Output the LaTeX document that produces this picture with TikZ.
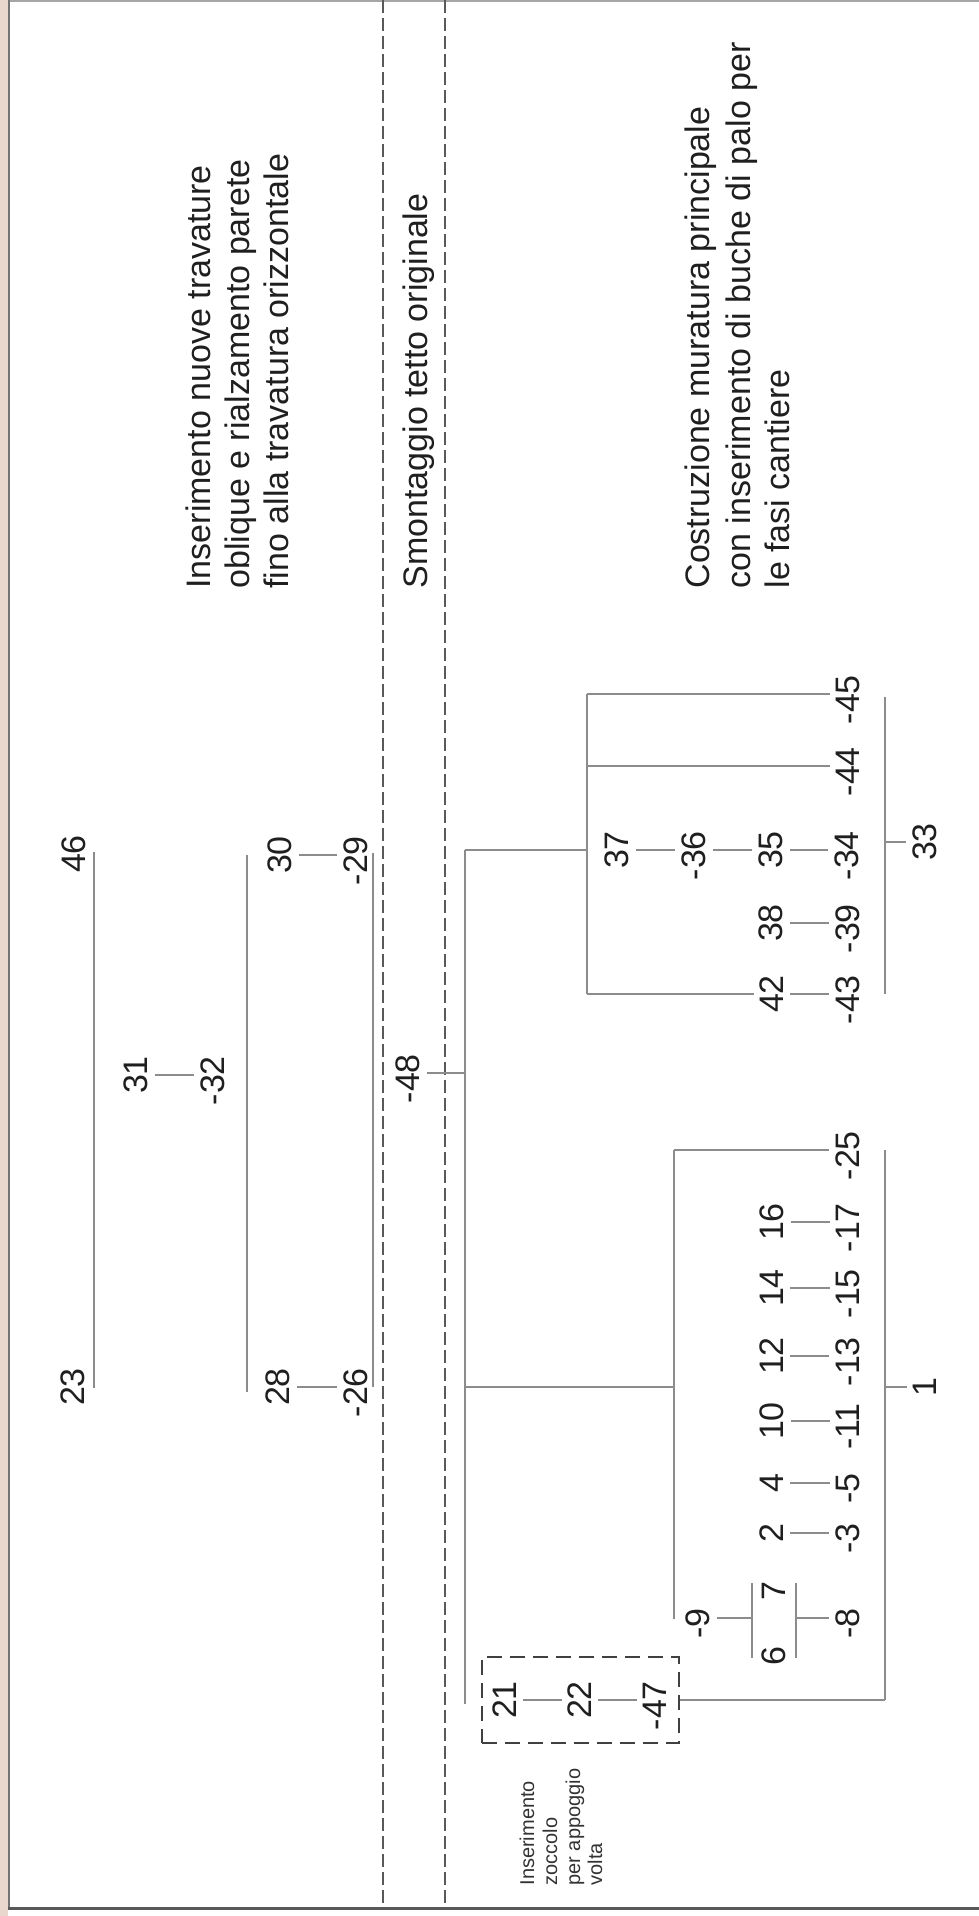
\documentclass[tikz,border=0pt]{standalone}
\usepackage{fontspec}
\setmainfont{Liberation Sans}
\definecolor{pinkstrip}{HTML}{E9D6CD}
\begin{document}
\begin{tikzpicture}[x=0.4pt,y=-0.4pt,
  lab/.style={rotate=90,inner xsep=0pt,inner ysep=2.4pt,text=black!88,font=\fontsize{13.6pt}{16pt}\selectfont},
  desc/.style={rotate=90,inner sep=0pt,anchor=base west,text=black!88,font=\fontsize{13.6pt}{16pt}\selectfont},
  smalltxt/.style={rotate=90,inner sep=0pt,anchor=base west,text=black!80,font=\fontsize{8pt}{9pt}\selectfont},
  conn/.style={draw=black!45,line width=0.5pt},
  divider/.style={draw=black!65,line width=0.55pt,dash pattern=on 5.2pt off 2pt},
  groupbox/.style={draw=black!75,line width=0.8pt,dash pattern=on 6pt off 3.2pt,minimum width=78.8pt,minimum height=34.4pt,inner sep=0pt}
]
% background and frame
\fill[white] (0,0) rectangle (979,1916);
\useasboundingbox (0,0) rectangle (979,1916);
\fill[pinkstrip] (0,0) rectangle (7.5,1916);
\draw[black!35,line width=0.6pt] (8,0.8) -- (979,0.8);
\draw[black!55,line width=0.8pt] (8.5,0) -- (8.5,1909);
\draw[black!65,line width=1.2pt] (8,1908) -- (979,1908);

% dividers
\coordinate (D1t) at (383,0); \coordinate (D1b) at (383,1907);
\coordinate (D2t) at (445,0); \coordinate (D2b) at (445,1907);
\draw[divider] (D1t) -- (D1b);
\draw[divider] (D2t) -- (D2b);

% description texts
\node[desc] (t1a) at (210,589) {Inserimento nuove travature};
\node[desc] (t1b) at (249,589) {oblique e rialzamento parete};
\node[desc] (t1c) at (288,589) {fino alla travatura orizzontale};
\node[desc] (t2) at (427,589) {Smontaggio tetto originale};
\node[desc] (t3a) at (709,589) {Costruzione muratura principale};
\node[desc] (t3b) at (750,589) {con inserimento di buche di palo per};
\node[desc] (t3c) at (789,589) {le fasi cantiere};
\node[smalltxt] (s1) at (534,1886) {Inserimento};
\node[smalltxt] (s2) at (557,1886) {zoccolo};
\node[smalltxt] (s3) at (580,1886) {per appoggio};
\node[smalltxt] (s4) at (602,1886) {volta};

% labels
\node[lab] (n46) at (74,854) {46};
\node[lab] (n23) at (73,1387) {23};
\node[lab] (n31) at (136,1075) {31};
\node[lab] (n32) at (213,1075) {\llap{-}32};
\node[lab] (n30) at (280,855) {30};
\node[lab] (n29) at (356,855) {\llap{-}29};
\node[lab] (n28) at (278,1387) {28};
\node[lab] (n26) at (356,1387) {\llap{-}26};
\node[lab] (n48) at (408,1073) {\llap{-}48};
\node[lab] (n37) at (617,850) {37};
\node[lab] (n36) at (694,850) {\llap{-}36};
\node[lab] (n35) at (771,850) {35};
\node[lab] (n34) at (847,850) {\llap{-}34};
\node[lab] (n45) at (848,694) {\llap{-}45};
\node[lab] (n44) at (848,766) {\llap{-}44};
\node[lab] (n33) at (925,842) {33};
\node[lab] (n38) at (771,923) {38};
\node[lab] (n39) at (848,923) {\llap{-}39};
\node[lab] (n42) at (772,994) {42};
\node[lab] (n43) at (848,994) {\llap{-}43};
\node[lab] (n25) at (848,1150) {\llap{-}25};
\node[lab] (n16) at (772,1222) {16};
\node[lab] (n17) at (848,1222) {\llap{-}17};
\node[lab] (n14) at (772,1288) {14};
\node[lab] (n15) at (848,1288) {\llap{-}15};
\node[lab] (n12) at (772,1356) {12};
\node[lab] (n13) at (848,1356) {\llap{-}13};
\node[lab] (n10) at (772,1421) {10};
\node[lab] (n11) at (848,1421) {\llap{-}11};
\node[lab] (n4) at (772,1483) {4};
\node[lab] (n5) at (848,1483) {\llap{-}5};
\node[lab] (n2) at (772,1533) {2};
\node[lab] (n3) at (848,1533) {\llap{-}3};
\node[lab] (n1) at (925,1387) {1};
\node[lab] (n9) at (698,1618) {\llap{-}9};
\node[lab] (n7) at (774,1591) {7};
\node[lab] (n6) at (774,1656) {6};
\node[lab] (n8) at (848,1618) {\llap{-}8};
\node[groupbox] (zbox) at (580.5,1700) {};
\node[lab] (n21) at (505,1700) {21};
\node[lab] (n22) at (580,1700) {22};
\node[lab] (n47) at (655,1700) {\llap{-}47};

% bars
\coordinate (L1a) at (94,852);  \coordinate (L1b) at (94,1388);
\coordinate (L2a) at (247,855); \coordinate (L2b) at (247,1392);
\coordinate (L3a) at (373,853); \coordinate (L3b) at (373,1387);
\coordinate (L4a) at (465,850); \coordinate (L4b) at (465,1704);
\coordinate (L4m1) at (465,1073); \coordinate (L4m2) at (465,1387);
\coordinate (L5a) at (587,694); \coordinate (L5b) at (587,994);
\coordinate (L5c) at (587,766); \coordinate (L5d) at (587,850);
\coordinate (L6a) at (674,1150); \coordinate (L6b) at (674,1619);
\coordinate (L6m) at (674,1387);
\coordinate (L7a) at (885,697); \coordinate (L7b) at (885,994);
\coordinate (L7m) at (885,842);
\coordinate (L8a) at (885,1150); \coordinate (L8b) at (885,1700);
\coordinate (L8m) at (885,1387);
\coordinate (B1a) at (752,1583); \coordinate (B1b) at (752,1658); \coordinate (B1m) at (752,1618);
\coordinate (B2a) at (796,1583); \coordinate (B2b) at (796,1658); \coordinate (B2m) at (796,1618);

\draw[conn] (L1a) -- (L1b);
\draw[conn] (L2a) -- (L2b);
\draw[conn] (L3a) -- (L3b);
\draw[conn] (L4a) -- (L4b);
\draw[conn] (L5a) -- (L5b);
\draw[conn] (L6a) -- (L6b);
\draw[conn] (L7a) -- (L7b);
\draw[conn] (L8a) -- (L8b);
\draw[conn] (B1a) -- (B1b);
\draw[conn] (B2a) -- (B2b);

% connectors
\draw[conn] (n31) -- (n32);
\draw[conn] (n30) -- (n29);
\draw[conn] (n28) -- (n26);
\draw[conn] (n48) -- (L4m1);
\draw[conn] (L4a) -- (L5d);
\draw[conn] (L4m2) -- (L6m);
\draw[conn] (L5a) -- (n45);
\draw[conn] (L5c) -- (n44);
\draw[conn] (L5b) -- (n42);
\draw[conn] (n37) -- (n36);
\draw[conn] (n36) -- (n35);
\draw[conn] (n35) -- (n34);
\draw[conn] (n38) -- (n39);
\draw[conn] (n42) -- (n43);
\draw[conn] (L7m) -- (n33);
\draw[conn] (L6a) -- (n25);
\draw[conn] (n16) -- (n17);
\draw[conn] (n14) -- (n15);
\draw[conn] (n12) -- (n13);
\draw[conn] (n10) -- (n11);
\draw[conn] (n4) -- (n5);
\draw[conn] (n2) -- (n3);
\draw[conn] (L8m) -- (n1);
\draw[conn] (n9) -- (B1m);
\draw[conn] (B2m) -- (n8);
\draw[conn] (n21) -- (n22);
\draw[conn] (n22) -- (n47);
\draw[conn] (zbox) -- (L8b);
\end{tikzpicture}
\end{document}
